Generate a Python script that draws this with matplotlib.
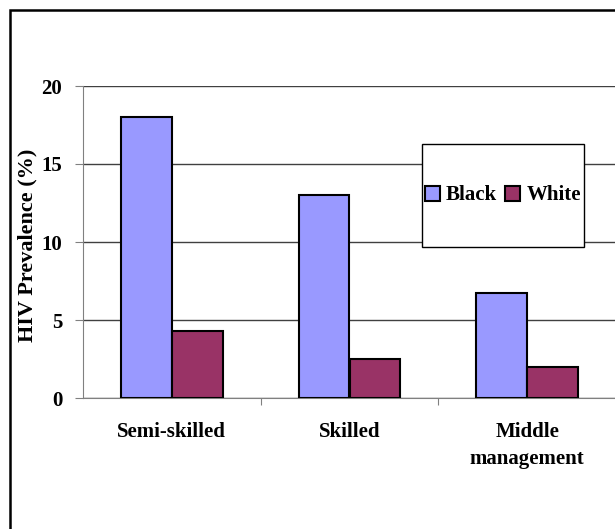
import numpy as np
import matplotlib.pyplot as plt
from matplotlib.patches import Rectangle

# HIV prevalence by job grade and race
categories = ['Semi-skilled', 'Skilled', 'Middle\nmanagement']
black = [18.0, 13.0, 6.7]
white = [4.3, 2.5, 2.0]
yticks = [0, 5, 10, 15, 20]

plt.rcParams['font.family'] = ['Liberation Serif', 'DejaVu Serif']
plt.rcParams['font.weight'] = 'bold'
FS = 15

fig = plt.figure(figsize=(6.15, 5.29), dpi=100)
ax = fig.add_axes([83 / 615, 1 - 398 / 529, 533 / 615, 312 / 529])

x = np.arange(len(categories))
w = 0.287
ax.bar(x - w / 2, black, w, color='#9999FF', edgecolor='black', linewidth=1.5,
       label='Black', zorder=3)
ax.bar(x + w / 2, white, w, color='#993366', edgecolor='black', linewidth=1.5,
       label='White', zorder=3)

ax.set_xlim(-0.5, 2.5)
ax.set_ylim(0, 20)
ax.set_yticks(yticks)
ax.set_yticklabels([str(t) for t in yticks], fontsize=FS, fontweight='bold')
ax.yaxis.grid(True, color='#404040', linewidth=1, zorder=0)
ax.set_axisbelow(True)

# category labels between boundary ticks
ax.set_xticks([0.5, 1.5])
ax.set_xticklabels([])
ax.tick_params(axis='x', length=5, direction='out', color='#808080')
ax.tick_params(axis='y', length=6, direction='out', color='#808080', pad=9)
for i, c in enumerate(categories):
    ax.text(i, -1.55, c, ha='center', va='top', fontsize=FS, fontweight='bold',
            linespacing=1.45)

# y axis title
fig.text(27 / 615, 1 - 245 / 529, 'HIV Prevalence (%)', rotation=90,
         ha='center', va='center', fontsize=16, fontweight='bold')

for s in ['top', 'right']:
    ax.spines[s].set_visible(False)
ax.spines['left'].set_color('#808080')
ax.spines['bottom'].set_color('#808080')

# legend box drawn as its own patch, entries placed inside
box_x0, box_x1 = (422 - 83) / 533, (584 - 83) / 533
box_y0, box_y1 = (398 - 247) / 312, (398 - 144) / 312
ax.add_patch(Rectangle((box_x0, box_y0), box_x1 - box_x0, box_y1 - box_y0,
                       transform=ax.transAxes, facecolor='white',
                       edgecolor='black', linewidth=1, zorder=4))
leg = ax.legend(loc='center', bbox_to_anchor=((box_x0 + box_x1) / 2, (box_y0 + box_y1) / 2),
                ncol=2, fontsize=FS, frameon=False,
                handlelength=0.7, handleheight=0.7, handletextpad=0.3,
                columnspacing=0.4, borderpad=0, borderaxespad=0)
leg.set_zorder(5)
for t in leg.get_texts():
    t.set_fontweight('bold')

# outer chart frame
fig.patches.append(Rectangle((9.5 / 615, -0.1), 1.2, 1 - 9.5 / 529 + 0.1,
                             transform=fig.transFigure, fill=False,
                             edgecolor='black', linewidth=1.8))

fig.savefig('out.png', dpi=100)
